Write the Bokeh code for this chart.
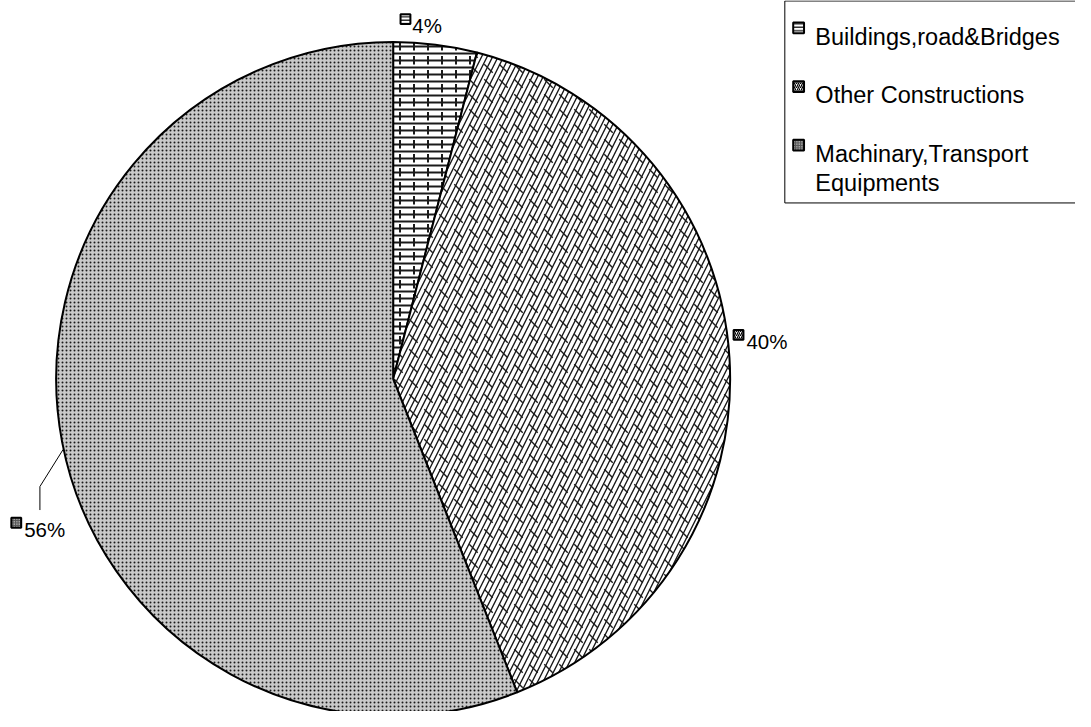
import math
from bokeh.plotting import figure
from bokeh.models import Range1d
from bokeh.core.properties import value
from bokeh.embed import file_html
from bokeh.resources import INLINE

# ---- data ----
categories = ["Buildings,road&Bridges", "Other Constructions", "Machinary,Transport\nEquipments"]
shares = [4, 40, 56]
pct_labels = ["4%", "40%", "56%"]

FONT = value("Liberation Sans")

# the reference canvas (1091 x 727) is mapped onto the figure
RW, RH = 1091, 727
W, H = 1075, 711
p = figure(width=W, height=H, output_backend="svg", toolbar_location=None,
           x_range=Range1d(0, RW), y_range=Range1d(RH, 0),
           min_border=0, outline_line_color=None)
p.axis.visible = False
p.grid.visible = False
p.background_fill_color = "white"

cx, cy, r = 398.5, 387.0, 342.0
total = sum(shares)

# angles: start at top, clockwise
starts, ends = [], []
acc = 0.0
for s in shares:
    a0 = math.pi / 2 - 2 * math.pi * acc / total
    acc += s
    a1 = math.pi / 2 - 2 * math.pi * acc / total
    starts.append(a0)
    ends.append(a1)

fills = ["white", "white", "#c9c9c9"]
hatch_main = [("horizontal_line", 7, 2.0), ("right_diagonal_line", 11, 1.4), ("dot", 4, 1.5)]
hatch_over = [("vertical_dash", 14, 2.0), ("left_diagonal_dash", 15, 1.4), None]

for i in range(len(shares)):
    pat, sc, wt = hatch_main[i]
    p.wedge(x=[cx], y=[cy], radius=r, start_angle=[starts[i]], end_angle=[ends[i]],
            direction="clock", fill_color=fills[i], line_color=None,
            hatch_pattern=pat, hatch_scale=sc, hatch_weight=wt, hatch_color="#1a1a1a")
    if hatch_over[i] is not None:
        pat2, sc2, wt2 = hatch_over[i]
        p.wedge(x=[cx], y=[cy], radius=r, start_angle=[starts[i]], end_angle=[ends[i]],
                direction="clock", fill_color=None, fill_alpha=0, line_color=None,
                hatch_pattern=pat2, hatch_scale=sc2, hatch_weight=wt2, hatch_color="#1a1a1a")
    p.wedge(x=[cx], y=[cy], radius=r, start_angle=[starts[i]], end_angle=[ends[i]],
            direction="clock", fill_color=None, fill_alpha=0, line_color="black", line_width=2)

key_hatch = [("horizontal_line", 3.5), ("right_diagonal_line", 4), ("dot", 2.5)]
key_fill = ["white", "white", "#555555"]

def key(x, y, i, size=10):
    pat, sc = key_hatch[i]
    p.rect(x=[x], y=[y], width=size, height=size, fill_color=key_fill[i],
           line_color="black", line_width=2,
           hatch_pattern=pat, hatch_scale=sc, hatch_weight=1.2,
           hatch_color="black" if i < 2 else "white")

LBL = "20.5px"
# 4%
key(411, 19, 0)
p.text(x=[418], y=[26], text=[pct_labels[0]], text_font=FONT, text_font_size=LBL,
       text_baseline="alphabetic", text_color="black")
# 40%
key(749, 342, 1)
p.text(x=[757], y=[349], text=[pct_labels[1]], text_font=FONT, text_font_size=LBL,
       text_baseline="alphabetic", text_color="black")
# 56%
mid = (starts[2] + ends[2]) / 2
ex, ey = cx + r * math.cos(mid), cy - r * math.sin(mid)
p.line(x=[ex + 1, 40, 40], y=[ey + 8, 497, 521], line_color="black", line_width=1)
key(16, 534, 2)
p.text(x=[24], y=[541], text=[pct_labels[2]], text_font=FONT, text_font_size=LBL,
       text_baseline="alphabetic", text_color="black")

# ---- legend ----
p.quad(left=[796], right=[1200], top=[0.5], bottom=[207], fill_color="white",
       line_color="black", line_width=1)
leg_base = [37, 97, 157]
for i, name in enumerate(categories):
    lines = name.split("\n")
    key(810, leg_base[i] - 9, i, size=11)
    for j, ln in enumerate(lines):
        p.text(x=[827], y=[leg_base[i] + 30 * j], text=[ln], text_font=FONT,
               text_font_size="23.5px", text_baseline="alphabetic", text_color="black")

open("out.html", "w").write(file_html(p, INLINE))
